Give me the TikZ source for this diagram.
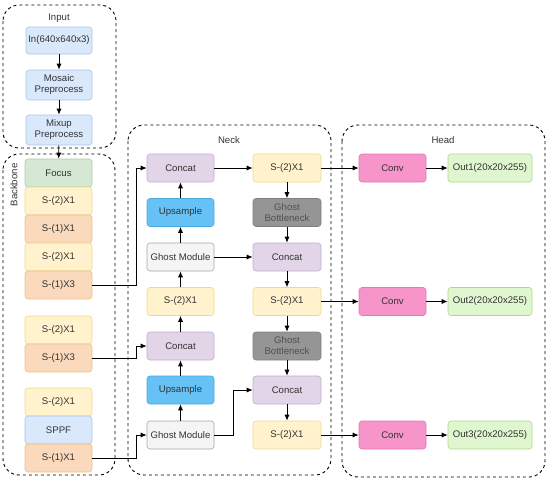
\documentclass[tikz,border=0pt]{standalone}
\usepackage{fontspec}
\setmainfont{Liberation Sans}
\usetikzlibrary{arrows.meta}
\definecolor{txt}{HTML}{333333}
\definecolor{bluef}{HTML}{DAE8FC}\definecolor{blued}{HTML}{A9C4EB}
\definecolor{greenf}{HTML}{D5E8D4}\definecolor{greend}{HTML}{A8CFA0}
\definecolor{yelf}{HTML}{FFF2CC}\definecolor{yeld}{HTML}{F0D98C}
\definecolor{oraf}{HTML}{FAD9BC}\definecolor{orad}{HTML}{F0C08A}
\definecolor{purf}{HTML}{E1D5E7}\definecolor{purd}{HTML}{C3ABD0}
\definecolor{upf}{HTML}{66C2F5}\definecolor{upd}{HTML}{4AA8E0}
\definecolor{gmf}{HTML}{F5F5F5}\definecolor{gmd}{HTML}{A6A6A6}
\definecolor{gbf}{HTML}{959595}\definecolor{gbd}{HTML}{7F7F7F}\definecolor{gbt}{HTML}{505050}
\definecolor{pinkf}{HTML}{F794C9}\definecolor{pinkd}{HTML}{E07AB4}
\definecolor{outf}{HTML}{E0F6CF}\definecolor{outd}{HTML}{AAD98E}
\tikzset{
  box/.style={rounded corners=3pt, line width=0.6pt, minimum height=28pt, inner sep=1pt,
    font=\fontsize{9.6}{11}\selectfont, text=txt, align=center},
  bb/.style={box, minimum width=67pt},
  nl/.style={box, minimum width=67pt},
  nr/.style={box, minimum width=68pt},
  blueb/.style={fill=bluef, draw=blued},
  greenb/.style={fill=greenf, draw=greend},
  yelb/.style={fill=yelf, draw=yeld},
  orab/.style={fill=oraf, draw=orad},
  purb/.style={fill=purf, draw=purd},
  upb/.style={fill=upf, draw=upd},
  gmb/.style={fill=gmf, draw=gmd},
  gbb/.style={fill=gbf, draw=gbd, text=gbt},
  pinkb/.style={fill=pinkf, draw=pinkd},
  outb/.style={fill=outf, draw=outd},
  container/.style={draw=black, dashed, line width=0.9pt, rounded corners=16pt},
  clabel/.style={font=\fontsize{9.6}{11}\selectfont, text=txt},
  conn/.style={draw=black, line width=0.8pt, -{Latex[length=6pt,width=5pt]}},
}
\begin{document}
\begin{tikzpicture}[x=1pt,y=1pt]
\useasboundingbox (0,0) rectangle (550,-482);
% containers
\draw[container] (3,-5) rectangle (116,-148);
\draw[container] (3,-154) rectangle (115,-475);
\draw[container] (128,-125) rectangle (331,-475);
\draw[container] (342,-125) rectangle (545,-477);
\node[clabel] (linput) at (59,-18) {Input};
\node[clabel, rotate=90] (lback) at (14,-185) {Backbone};
\node[clabel] (lneck) at (229,-140) {Neck};
\node[clabel] (lhead) at (443,-140) {Head};
% input
\node[bb, blueb, minimum width=66pt, minimum height=27pt] (in) at (59,-40.5) {In(640x640x3)};
\node[bb, blueb, minimum width=66pt, minimum height=30pt] (mos) at (59,-85) {Mosaic\\Preprocess};
\node[bb, blueb, minimum width=66pt, minimum height=30pt] (mix) at (59,-130) {Mixup\\Preprocess};
% backbone
\node[bb, greenb] (focus) at (58.5,-173) {Focus};
\node[bb, yelb] (b1) at (58.5,-201) {S-(2)X1};
\node[bb, orab] (b2) at (58.5,-229) {S-(1)X1};
\node[bb, yelb] (b3) at (58.5,-257) {S-(2)X1};
\node[bb, orab] (b4) at (58.5,-285) {S-(1)X3};
\node[bb, yelb] (b5) at (58.5,-330) {S-(2)X1};
\node[bb, orab] (b6) at (58.5,-358) {S-(1)X3};
\node[bb, yelb] (b7) at (58.5,-402) {S-(2)X1};
\node[bb, blueb] (sppf) at (58.5,-430) {SPPF};
\node[bb, orab] (b8) at (58.5,-458) {S-(1)X1};
% neck left
\node[nl, purb] (c1) at (180.5,-168) {Concat};
\node[nl, upb] (u1) at (180.5,-212.5) {Upsample};
\node[nl, gmb] (g1) at (180.5,-257) {Ghost Module};
\node[nl, yelb] (n1) at (180.5,-301.5) {S-(2)X1};
\node[nl, purb] (c2) at (180.5,-346) {Concat};
\node[nl, upb] (u2) at (180.5,-390) {Upsample};
\node[nl, gmb] (g2) at (180.5,-435) {Ghost Module};
% neck right
\node[nr, yelb] (r1) at (287,-168) {S-(2)X1};
\node[nr, gbb] (gb1) at (287,-212.5) {Ghost\\Bottleneck};
\node[nr, purb] (c3) at (287,-257) {Concat};
\node[nr, yelb] (r2) at (287,-301.5) {S-(2)X1};
\node[nr, gbb] (gb2) at (287,-346) {Ghost\\Bottleneck};
\node[nr, purb] (c4) at (287,-390) {Concat};
\node[nr, yelb] (r3) at (287,-435) {S-(2)X1};
% head
\node[nl, pinkb] (cv1) at (392.5,-168) {Conv};
\node[nl, pinkb] (cv2) at (392.5,-301.5) {Conv};
\node[nl, pinkb] (cv3) at (392.5,-435) {Conv};
\node[box, outb, minimum width=84pt] (o1) at (490,-168) {Out1(20x20x255)};
\node[box, outb, minimum width=84pt] (o2) at (490,-301.5) {Out2(20x20x255)};
\node[box, outb, minimum width=84pt] (o3) at (490,-435) {Out3(20x20x255)};
% connectors
\draw[conn] (in) -- (mos);
\draw[conn] (mos) -- (mix);
\draw[conn] (mix) -- (focus);
\draw[conn] (b4.east) -- ++(44.5,0) |- (c1.west);
\draw[conn] (b6.east) -- ++(44.5,0) |- (c2.west);
\draw[conn] (b8.east) -- ++(44.5,0) |- (g2.west);
\draw[conn] (n1) -- (g1);
\draw[conn] (g1) -- (u1);
\draw[conn] (u1) -- (c1);
\draw[conn] (c2) -- (n1);
\draw[conn] (g2) -- (u2);
\draw[conn] (u2) -- (c2);
\draw[conn] (c1) -- (r1);
\draw[conn] (g1) -- (c3);
\draw[conn] (g2.east) -- ++(19.5,0) |- (c4.west);
\draw[conn] (r1) -- (gb1);
\draw[conn] (gb1) -- (c3);
\draw[conn] (c3) -- (r2);
\draw[conn] (r2) -- (gb2);
\draw[conn] (gb2) -- (c4);
\draw[conn] (c4) -- (r3);
\draw[conn] (r1) -- (cv1);
\draw[conn] (r2) -- (cv2);
\draw[conn] (r3) -- (cv3);
\draw[conn] (cv1) -- (o1);
\draw[conn] (cv2) -- (o2);
\draw[conn] (cv3) -- (o3);
\end{tikzpicture}
\end{document}
